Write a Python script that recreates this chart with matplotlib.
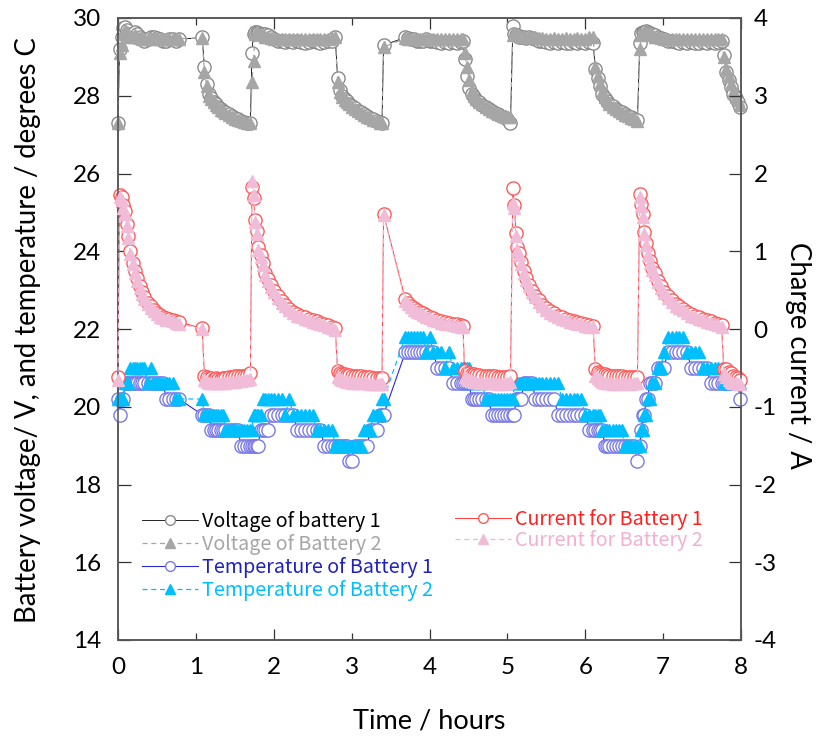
import matplotlib
matplotlib.use("Agg")
import matplotlib.pyplot as plt
from matplotlib.ticker import MultipleLocator, FormatStrFormatter

plt.rcParams["axes.unicode_minus"] = False

# ---------------------------------------------------------------- data
# logging time (hours), shared by all six channels
hours = [
    0.00, 0.02, 0.05, 0.07, 0.09, 0.11, 0.13, 0.16, 0.19, 0.22, 0.25, 0.28, 0.31,
    0.34, 0.38, 0.42, 0.46, 0.50, 0.54, 0.58, 0.62, 0.66, 0.70, 0.74, 0.78,
    1.08,
    1.11, 1.14, 1.17, 1.20, 1.23, 1.26, 1.29, 1.32, 1.35, 1.38, 1.42, 1.46, 1.50,
    1.54, 1.58, 1.62, 1.66, 1.70,
    1.72, 1.74, 1.76, 1.78, 1.80, 1.83, 1.86, 1.89, 1.92, 1.96, 2.00, 2.05, 2.10,
    2.15, 2.20, 2.25, 2.30, 2.35, 2.40, 2.45, 2.50, 2.55, 2.60, 2.65, 2.70, 2.75, 2.79,
    2.82, 2.85, 2.88, 2.91, 2.94, 2.97, 3.00, 3.04, 3.08, 3.12, 3.16, 3.20, 3.24,
    3.28, 3.32, 3.36,
    3.39, 3.41, 3.69, 3.72, 3.76, 3.80, 3.84, 3.88, 3.92, 3.96, 4.00, 4.05, 4.10,
    4.15, 4.20, 4.25, 4.30, 4.35, 4.40, 4.43,
    4.45, 4.48, 4.51, 4.54, 4.57, 4.60, 4.64, 4.68, 4.72, 4.76, 4.80, 4.84, 4.88,
    4.92, 4.96, 5.00, 5.04,
    5.07, 5.09, 5.11, 5.13, 5.15, 5.18, 5.21, 5.24, 5.28, 5.32, 5.36, 5.40, 5.45,
    5.50, 5.55, 5.60, 5.65, 5.70, 5.75, 5.80, 5.85, 5.90, 5.95, 6.00, 6.05, 6.10,
    6.13, 6.16, 6.19, 6.22, 6.25, 6.28, 6.31, 6.35, 6.39, 6.43, 6.47, 6.51, 6.55,
    6.59, 6.63, 6.67,
    6.70, 6.72, 6.74, 6.76, 6.78, 6.80, 6.83, 6.86, 6.89, 6.93, 6.97, 7.01, 7.06,
    7.11, 7.16, 7.21, 7.26, 7.31, 7.36, 7.41, 7.46, 7.51, 7.56, 7.61, 7.66, 7.71, 7.75,
    7.78, 7.81, 7.84, 7.87, 7.90, 7.93, 7.96, 7.99,
]

voltage_b1 = [
    27.30, 29.20, 29.50, 29.75, 29.78, 29.70, 29.60, 29.55, 29.60, 29.65, 29.60, 29.50, 29.45,
    29.42, 29.45, 29.50, 29.50, 29.48, 29.45, 29.40, 29.42, 29.45, 29.45, 29.42, 29.45,
    29.50,
    28.75, 28.30, 28.05, 27.95, 27.85, 27.78, 27.72, 27.66, 27.62, 27.57, 27.52, 27.47, 27.43,
    27.39, 27.36, 27.33, 27.31, 27.30,
    29.10, 29.60, 29.65, 29.65, 29.62, 29.60, 29.60, 29.58, 29.55, 29.50, 29.45, 29.42, 29.40,
    29.38, 29.40, 29.38, 29.40, 29.38, 29.36, 29.38, 29.40, 29.38, 29.36, 29.38, 29.40, 29.42, 29.50,
    28.45, 28.15, 28.00, 27.92, 27.86, 27.80, 27.74, 27.68, 27.62, 27.57, 27.53, 27.48, 27.44,
    27.40, 27.36, 27.32,
    27.30, 29.30, 29.50, 29.48, 29.45, 29.45, 29.42, 29.40, 29.42, 29.45, 29.42, 29.40, 29.38,
    29.36, 29.38, 29.36, 29.38, 29.36, 29.38, 29.40,
    28.95, 28.50, 28.20, 28.05, 27.97, 27.90, 27.83, 27.76, 27.70, 27.65, 27.60, 27.56, 27.52,
    27.49, 27.46, 27.40, 27.30,
    29.80, 29.60, 29.55, 29.55, 29.52, 29.50, 29.50, 29.48, 29.50, 29.48, 29.45, 29.42, 29.40,
    29.38, 29.36, 29.38, 29.36, 29.38, 29.36, 29.35, 29.38, 29.36, 29.38, 29.36, 29.38, 29.35,
    28.70, 28.45, 28.25, 28.05, 27.95, 27.87, 27.80, 27.73, 27.67, 27.62, 27.58, 27.53, 27.49,
    27.45, 27.41, 27.37,
    29.35, 29.62, 29.65, 29.65, 29.67, 29.65, 29.62, 29.60, 29.55, 29.50, 29.48, 29.45, 29.42,
    29.40, 29.38, 29.36, 29.38, 29.36, 29.38, 29.36, 29.35, 29.38, 29.36, 29.38, 29.36, 29.38, 29.40,
    29.05, 28.60, 28.40, 28.23, 28.05, 27.95, 27.85, 27.70,
]

voltage_b2 = [
    27.30, 29.10, 29.30, 29.60, 29.70, 29.65, 29.55, 29.50, 29.50, 29.55, 29.52, 29.48, 29.47,
    29.45, 29.47, 29.48, 29.48, 29.47, 29.46, 29.45, 29.46, 29.47, 29.47, 29.46, 29.47,
    29.48,
    28.60, 28.25, 28.00, 27.92, 27.83, 27.76, 27.70, 27.64, 27.60, 27.55, 27.50, 27.45, 27.41,
    27.37, 27.34, 27.32, 27.30, 27.30,
    28.35, 28.90, 29.60, 29.65, 29.60, 29.58, 29.55, 29.52, 29.50, 29.48, 29.47, 29.47, 29.46,
    29.46, 29.47, 29.46, 29.47, 29.46, 29.46, 29.47, 29.46, 29.47, 29.46, 29.46, 29.47, 29.48, 29.50,
    28.35, 28.10, 27.97, 27.90, 27.84, 27.78, 27.72, 27.66, 27.60, 27.55, 27.51, 27.46, 27.42,
    27.38, 27.34, 27.30,
    27.30, 29.25, 29.48, 29.47, 29.47, 29.46, 29.47, 29.46, 29.47, 29.47, 29.46, 29.47, 29.46,
    29.46, 29.47, 29.46, 29.47, 29.46, 29.47, 29.47,
    29.10, 28.75, 28.40, 28.12, 28.00, 27.92, 27.85, 27.78, 27.72, 27.66, 27.62, 27.58, 27.54,
    27.51, 27.48, 27.46, 27.45,
    29.55, 29.62, 29.60, 29.58, 29.55, 29.52, 29.50, 29.50, 29.52, 29.50, 29.50, 29.48, 29.48,
    29.47, 29.47, 29.48, 29.47, 29.47, 29.48, 29.47, 29.47, 29.48, 29.47, 29.47, 29.52, 29.50,
    28.75, 28.50, 28.30, 28.10, 27.98, 27.88, 27.80, 27.72, 27.66, 27.60, 27.56, 27.51, 27.47,
    27.43, 27.39, 27.35,
    29.20, 29.55, 29.62, 29.65, 29.62, 29.60, 29.58, 29.55, 29.52, 29.50, 29.48, 29.47, 29.47,
    29.46, 29.47, 29.46, 29.47, 29.46, 29.47, 29.46, 29.47, 29.46, 29.47, 29.47, 29.46, 29.47, 29.45,
    29.00, 28.70, 28.50, 28.30, 28.10, 27.98, 27.88, 27.75,
]

temp_b1 = [
    20.2, 19.8, 20.2, 20.2, 20.6, 20.6, 20.6, 20.6, 20.6, 20.6, 20.6, 20.6, 20.6,
    20.6, 20.6, 20.6, 20.6, 20.6, 20.6, 20.6, 20.2, 20.2, 20.2, 20.2, 20.2,
    19.8,
    19.8, 19.8, 19.8, 19.4, 19.4, 19.4, 19.4, 19.4, 19.4, 19.4, 19.4, 19.4, 19.4,
    19.4, 19.0, 19.0, 19.0, 19.0,
    19.0, 19.0, 19.0, 19.0, 19.0, 19.4, 19.4, 19.4, 19.4, 19.8, 19.8, 19.8, 19.8,
    19.8, 19.8, 19.8, 19.4, 19.4, 19.4, 19.4, 19.4, 19.4, 19.4, 19.0, 19.0, 19.0, 19.0,
    19.0, 19.0, 19.0, 19.0, 19.0, 18.6, 18.6, 19.0, 19.0, 19.0, 19.0, 19.0, 19.4,
    19.4, 19.4, 19.8,
    19.8, 19.8, 21.4, 21.4, 21.4, 21.4, 21.4, 21.4, 21.4, 21.4, 21.4, 21.4, 21.0,
    21.0, 21.0, 21.0, 20.6, 20.6, 20.6, 20.6,
    20.6, 20.6, 20.6, 20.2, 20.2, 20.2, 20.2, 20.2, 20.2, 20.2, 19.8, 19.8, 19.8,
    19.8, 19.8, 19.8, 19.8,
    19.8, 19.8, 20.2, 20.2, 20.2, 20.2, 20.6, 20.6, 20.6, 20.6, 20.2, 20.2, 20.2,
    20.2, 20.2, 20.2, 19.8, 19.8, 19.8, 19.8, 19.8, 19.8, 19.8, 19.8, 19.4, 19.4,
    19.4, 19.4, 19.4, 19.4, 19.0, 19.0, 19.0, 19.0, 19.0, 19.0, 19.0, 19.0, 19.0,
    19.0, 19.0, 18.6,
    19.0, 19.4, 19.8, 19.8, 20.2, 20.2, 20.6, 20.6, 20.6, 21.0, 21.0, 21.0, 21.4,
    21.4, 21.4, 21.4, 21.4, 21.4, 21.0, 21.0, 21.0, 21.0, 21.0, 20.6, 20.6, 20.6, 20.6,
    20.6, 20.6, 20.6, 20.6, 20.6, 20.6, 20.6, 20.2,
]

temp_b2 = [
    20.2, 20.2, 20.2, 20.2, 20.6, 20.6, 20.6, 21.0, 21.0, 21.0, 21.0, 21.0, 21.0,
    21.0, 20.6, 21.0, 20.6, 20.6, 20.6, 20.6, 20.6, 20.6, 20.6, 20.2, 20.2,
    20.2,
    19.8, 19.8, 19.8, 19.8, 19.8, 19.8, 19.8, 19.8, 19.8, 19.4, 19.4, 19.4, 19.4,
    19.4, 19.4, 19.4, 19.4, 19.4,
    19.4, 19.8, 19.8, 19.8, 19.8, 19.8, 20.2, 20.2, 20.2, 20.2, 20.2, 20.2, 20.2,
    19.8, 20.2, 19.8, 19.8, 19.8, 19.8, 19.8, 19.8, 19.4, 19.4, 19.4, 19.4, 19.4, 19.0,
    19.0, 19.0, 19.0, 19.0, 19.0, 19.0, 19.0, 19.0, 19.0, 19.0, 19.4, 19.4, 19.4,
    19.8, 19.8, 19.8,
    20.2, 20.2, 21.8, 21.8, 21.8, 21.8, 21.8, 21.8, 21.8, 21.4, 21.8, 21.4, 21.4,
    21.4, 21.0, 21.4, 21.0, 21.0, 21.0, 21.0,
    21.0, 21.0, 21.0, 20.6, 20.6, 20.6, 20.6, 20.6, 20.2, 20.2, 20.2, 20.2, 20.2,
    20.2, 20.2, 20.2, 20.2,
    20.2, 20.6, 20.6, 20.6, 20.6, 20.6, 20.6, 20.6, 20.6, 20.6, 20.6, 20.6, 20.6,
    20.6, 20.6, 20.6, 20.6, 20.2, 20.2, 20.2, 20.2, 20.2, 20.2, 19.8, 19.8, 19.8,
    19.8, 19.8, 19.8, 19.4, 19.4, 19.4, 19.4, 19.4, 19.4, 19.4, 19.4, 19.0, 19.0,
    19.0, 19.0, 19.0,
    19.0, 19.4, 19.4, 19.8, 19.8, 20.2, 20.2, 20.6, 20.6, 21.0, 21.0, 21.4, 21.8,
    21.8, 21.8, 21.8, 21.8, 21.4, 21.4, 21.4, 21.4, 21.0, 21.0, 21.0, 21.0, 21.0, 21.0,
    20.6, 20.6, 20.6, 20.6, 20.6, 20.6, 20.6, 20.6,
]

current_b1 = [
    -0.62, 1.72, 1.70, 1.60, 1.52, 1.35, 1.20, 1.00, 0.85, 0.75, 0.65, 0.55, 0.47,
    0.41, 0.34, 0.29, 0.25, 0.21, 0.18, 0.15, 0.14, 0.13, 0.12, 0.10, 0.09,
    0.01,
    -0.60, -0.62, -0.63, -0.63, -0.64, -0.63, -0.64, -0.64, -0.63, -0.63, -0.62, -0.62, -0.61,
    -0.61, -0.60, -0.60, -0.59, -0.56,
    1.82, 1.68, 1.40, 1.26, 1.05, 0.95, 0.85, 0.72, 0.64, 0.56, 0.49, 0.42, 0.36,
    0.31, 0.26, 0.22, 0.19, 0.17, 0.15, 0.13, 0.11, 0.10, 0.08, 0.07, 0.05, 0.03, 0.01,
    -0.54, -0.56, -0.58, -0.58, -0.59, -0.59, -0.60, -0.60, -0.61, -0.61, -0.62, -0.62, -0.62,
    -0.63, -0.63, -0.63,
    -0.63, 1.48, 0.38, 0.34, 0.30, 0.27, 0.24, 0.22, 0.20, 0.18, 0.16, 0.14, 0.12,
    0.10, 0.09, 0.08, 0.07, 0.06, 0.05, 0.04,
    -0.54, -0.56, -0.57, -0.58, -0.58, -0.59, -0.59, -0.60, -0.60, -0.61, -0.61, -0.61, -0.62,
    -0.62, -0.62, -0.62, -0.60,
    1.81, 1.60, 1.24, 1.05, 0.98, 0.86, 0.75, 0.66, 0.57, 0.49, 0.43, 0.37, 0.31,
    0.27, 0.23, 0.20, 0.17, 0.15, 0.13, 0.11, 0.10, 0.09, 0.08, 0.06, 0.05, 0.04,
    -0.52, -0.55, -0.57, -0.58, -0.58, -0.59, -0.60, -0.60, -0.61, -0.61, -0.61, -0.62, -0.62,
    -0.62, -0.62, -0.62,
    1.74, 1.61, 1.48, 1.25, 1.11, 0.98, 0.88, 0.78, 0.72, 0.62, 0.55, 0.48, 0.42,
    0.37, 0.32, 0.29, 0.26, 0.22, 0.19, 0.17, 0.15, 0.13, 0.11, 0.10, 0.08, 0.07, 0.05,
    -0.52, -0.52, -0.55, -0.57, -0.60, -0.62, -0.63, -0.65,
]

current_b2 = [
    -0.66, 1.70, 1.66, 1.56, 1.48, 1.32, 1.17, 0.97, 0.83, 0.72, 0.62, 0.53, 0.45,
    0.39, 0.32, 0.27, 0.23, 0.19, 0.16, 0.14, 0.12, 0.11, 0.10, 0.08, 0.07,
    0.00,
    -0.66, -0.68, -0.69, -0.69, -0.70, -0.69, -0.70, -0.70, -0.69, -0.69, -0.68, -0.68, -0.68,
    -0.67, -0.67, -0.66, -0.66, -0.64,
    1.90, 1.72, 1.38, 1.22, 1.02, 0.92, 0.82, 0.70, 0.62, 0.54, 0.47, 0.40, 0.34,
    0.29, 0.24, 0.20, 0.17, 0.15, 0.13, 0.11, 0.09, 0.08, 0.06, 0.05, 0.03, 0.01, -0.01,
    -0.62, -0.64, -0.66, -0.67, -0.68, -0.68, -0.69, -0.69, -0.70, -0.70, -0.70, -0.70, -0.71,
    -0.71, -0.71, -0.71,
    -0.71, 1.46, 0.36, 0.32, 0.28, 0.25, 0.22, 0.20, 0.18, 0.16, 0.14, 0.12, 0.10,
    0.08, 0.07, 0.06, 0.05, 0.04, 0.03, 0.02,
    -0.62, -0.64, -0.66, -0.67, -0.68, -0.68, -0.69, -0.69, -0.70, -0.70, -0.70, -0.70, -0.71,
    -0.71, -0.71, -0.70, -0.68,
    1.62, 1.56, 1.20, 1.02, 0.95, 0.83, 0.72, 0.63, 0.55, 0.47, 0.41, 0.35, 0.29,
    0.25, 0.21, 0.18, 0.15, 0.13, 0.11, 0.09, 0.08, 0.07, 0.06, 0.04, 0.03, 0.02,
    -0.60, -0.63, -0.66, -0.68, -0.69, -0.70, -0.70, -0.71, -0.71, -0.71, -0.70, -0.70, -0.71,
    -0.71, -0.70, -0.70,
    1.70, 1.58, 1.44, 1.22, 1.08, 0.95, 0.85, 0.76, 0.70, 0.60, 0.53, 0.46, 0.40,
    0.35, 0.30, 0.27, 0.24, 0.20, 0.17, 0.15, 0.13, 0.11, 0.09, 0.08, 0.06, 0.05, 0.03,
    -0.58, -0.62, -0.66, -0.68, -0.70, -0.70, -0.71, -0.71,
]

labels = [
    "Voltage of battery 1", "Voltage of Battery 2",
    "Temperature of Battery 1", "Temperature of Battery 2",
    "Current for Battery 1", "Current for Battery 2",
]

# ---------------------------------------------------------------- figure
TICK_FONT = "Lato"
LEGEND_FONT = ["Noto Sans CJK JP", "DejaVu Sans"]

W, H = 838, 740
fig = plt.figure(figsize=(W / 100, H / 100), dpi=100)
ax = fig.add_axes([118 / W, 100 / H, 623 / W, 622 / H])
ax2 = ax.twinx()

MS_C = 9.5   # circle size
MS_T = 9.0   # triangle size

l_v1, = ax.plot(hours, voltage_b1, color="black", lw=0.6, marker="o", ms=MS_C,
                mfc="white", mec="#8a8a8a", mew=1.0, clip_on=False, zorder=2)
l_v2, = ax.plot(hours, voltage_b2, color="#a6a6a6", lw=0.9, ls=(0, (4, 3)), marker="^",
                ms=MS_T, mfc="#a6a6a6", mec="#a6a6a6", clip_on=False, zorder=3)
l_t1, = ax.plot(hours, temp_b1, color="#2a2ad0", lw=0.8, marker="o", ms=MS_C,
                mfc="white", mec="#7a7ae6", mew=1.0, clip_on=False, zorder=4)
l_t2, = ax.plot(hours, temp_b2, color="#00bfff", lw=0.9, ls=(0, (4, 3)), marker="^",
                ms=MS_T, mfc="#00bfff", mec="#00bfff", clip_on=False, zorder=5)

l_c1, = ax2.plot(hours, current_b1, color="#ff3b3b", lw=0.7, marker="o", ms=MS_C,
                 mfc="white", mec="#ff5a5a", mew=1.0, clip_on=False, zorder=2)
l_c2, = ax2.plot(hours, current_b2, color="#f2b6d6", lw=0.9, ls=(0, (4, 3)), marker="^",
                 ms=MS_T, mfc="#f0bcd8", mec="#f0bcd8", clip_on=False, zorder=3)

# ---------------------------------------------------------------- axes
ax.set_xlim(0, 8)
ax.set_ylim(14, 30)
ax2.set_ylim(-4, 4)

ax.xaxis.set_major_locator(MultipleLocator(2))
ax.xaxis.set_minor_locator(MultipleLocator(1))
ax.xaxis.set_major_formatter(FormatStrFormatter("%d"))
ax.xaxis.set_minor_formatter(FormatStrFormatter("%d"))
ax.yaxis.set_major_locator(MultipleLocator(2))
ax2.yaxis.set_major_locator(MultipleLocator(1))

spine_c = "#555555"
for a in (ax, ax2):
    for s in a.spines.values():
        s.set_color(spine_c)
        s.set_linewidth(1.1)

ax.tick_params(axis="x", which="major", direction="in", length=8, width=0.9,
               color="#333333", top=True, pad=12, labelsize=17.5)
ax.tick_params(axis="x", which="minor", direction="in", length=5, width=0.9,
               color="#333333", top=True, pad=12, labelsize=17.5)
ax.tick_params(axis="y", which="major", direction="in", length=9, width=0.9,
               color="#333333", pad=12, labelsize=17.5)
ax2.tick_params(axis="y", which="major", direction="in", length=9, width=0.9,
                color="#333333", pad=9, labelsize=17.5)

for lab in ax.get_xticklabels(which="both") + ax.get_yticklabels() + ax2.get_yticklabels():
    lab.set_fontfamily(TICK_FONT)

ax.set_xlabel("Time / hours", fontsize=19.5, family=TICK_FONT, labelpad=22)
fig.text(28 / W, 1 - 330 / H, "Battery voltage/ V, and temperature / degrees C",
         fontsize=19.8, family=TICK_FONT, rotation=90, ha="center", va="center")
fig.text(798 / W, 1 - 355 / H, "Charge current / A",
         fontsize=19.8, family=TICK_FONT, rotation=-90, ha="center", va="center")

# ---------------------------------------------------------------- legends
leg_font = {"family": LEGEND_FONT, "size": 14.2}
leg1 = fig.legend([l_v1, l_v2, l_t1, l_t2], labels[:4], loc="upper left",
                  bbox_to_anchor=(142 / W, 1 - 511 / H), frameon=False,
                  prop=leg_font, handlelength=2.85, handletextpad=0.2,
                  labelspacing=0.1, borderpad=0, borderaxespad=0,
                  labelcolor=["black", "#a6a6a6", "#2020c0", "#00bfff"])
leg2 = fig.legend([l_c1, l_c2], labels[4:], loc="upper left",
                  bbox_to_anchor=(455 / W, 1 - 509 / H), frameon=False,
                  prop=leg_font, handlelength=2.85, handletextpad=0.2,
                  labelspacing=0.0, borderpad=0, borderaxespad=0,
                  labelcolor=["#ff2020", "#f2b0d2"])
for lg in (leg1, leg2):
    for h in lg.legend_handles:
        h.set_markersize(7)

fig.savefig("out.png", dpi=100)
